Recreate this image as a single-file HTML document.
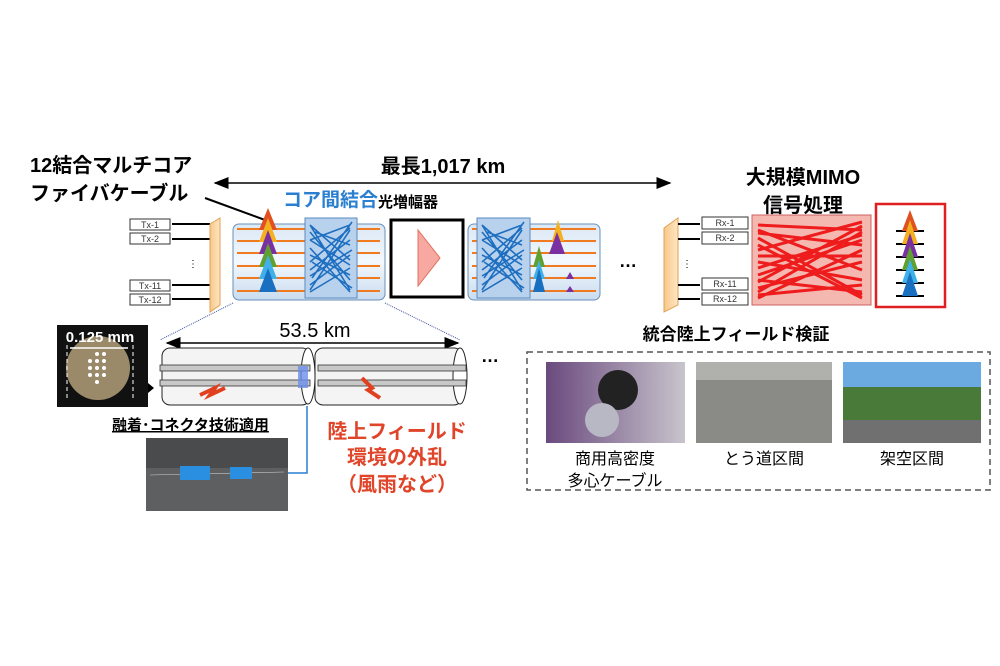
<!DOCTYPE html>
<html><head><meta charset="utf-8"><style>
html,body{margin:0;padding:0;background:#fff;}
svg{display:block;font-family:"Liberation Sans","Noto Sans CJK JP",sans-serif;}
</style></head><body>
<svg width="1000" height="666" viewBox="0 0 1000 666" xmlns="http://www.w3.org/2000/svg">
<defs>
<marker id="ah" markerWidth="10" markerHeight="8" refX="9" refY="4" orient="auto"><path d="M0,0 L10,4 L0,8 Z" fill="#000"/></marker>
<marker id="ahs" markerWidth="10" markerHeight="8" refX="1" refY="4" orient="auto"><path d="M10,0 L0,4 L10,8 Z" fill="#000"/></marker>
<linearGradient id="cyl" x1="0" y1="0" x2="0" y2="1"><stop offset="0" stop-color="#dbe8f6"/><stop offset="0.5" stop-color="#f3f8fd"/><stop offset="1" stop-color="#c9dcf0"/></linearGradient>
<linearGradient id="tr" x1="0" y1="0" x2="1" y2="0"><stop offset="0" stop-color="#f7c98a"/><stop offset="1" stop-color="#fde6c4"/></linearGradient>
<linearGradient id="ph1" x1="0" y1="0" x2="1" y2="0"><stop offset="0" stop-color="#6a4a7e"/><stop offset="1" stop-color="#c8c4cc"/></linearGradient>
</defs>

<text x="30" y="172" font-size="20" font-weight="bold">12結合マルチコア</text>
<text x="30" y="200" font-size="20" font-weight="bold">ファイバケーブル</text>
<line x1="205" y1="198" x2="265" y2="220" stroke="#000" stroke-width="2"/>
<text x="443" y="173" font-size="20" font-weight="bold" text-anchor="middle">最長1,017 km</text>
<line x1="215" y1="183" x2="670" y2="183" stroke="#000" stroke-width="1.5" marker-start="url(#ahs)" marker-end="url(#ah)"/>
<text x="283" y="206" font-size="19" font-weight="bold" fill="#2a7fd0">コア間結合</text>
<text x="378" y="207" font-size="15" font-weight="bold">光増幅器</text>

<g font-size="9" text-anchor="middle" fill="#333">
<rect x="130" y="219" width="40" height="11" fill="#fff" stroke="#333"/><text x="150" y="228">Tx-1</text>
<rect x="130" y="233" width="40" height="11" fill="#fff" stroke="#333"/><text x="150" y="242">Tx-2</text>
<rect x="130" y="280" width="40" height="11" fill="#fff" stroke="#333"/><text x="150" y="289">Tx-11</text>
<rect x="130" y="294" width="40" height="11" fill="#fff" stroke="#333"/><text x="150" y="303">Tx-12</text>
</g>
<g stroke="#000" stroke-width="2"><line x1="172" y1="224" x2="210" y2="224"/><line x1="172" y1="239" x2="210" y2="239"/><line x1="172" y1="285" x2="210" y2="285"/><line x1="172" y1="299" x2="210" y2="299"/></g>
<text x="193" y="267" font-size="10" text-anchor="middle">⋮</text>
<path d="M210,224 L220,218 L220,305 L210,312 Z" fill="url(#tr)" stroke="#e3a050"/>

<rect x="233" y="224" width="152" height="76" rx="6" fill="url(#cyl)" stroke="#6a8fb8"/>
<g stroke="#f07a20" stroke-width="2">
<line x1="237" y1="229" x2="380" y2="229"/><line x1="237" y1="241" x2="380" y2="241"/><line x1="237" y1="253" x2="380" y2="253"/><line x1="237" y1="266" x2="380" y2="266"/><line x1="237" y1="278" x2="380" y2="278"/><line x1="237" y1="291" x2="380" y2="291"/></g>
<path d="M259,230 L268,208 L277,230Z" fill="#e05020"/>
<path d="M259,242 L268,218 L277,242Z" fill="#f5b020"/>
<path d="M259,254 L268,230 L277,254Z" fill="#7a30a0"/>
<path d="M259,267 L268,243 L277,267Z" fill="#60a030"/>
<path d="M259,279 L268,255 L277,279Z" fill="#40b0e8"/>
<path d="M259,292 L268,268 L277,292Z" fill="#1a70c0"/>
<rect x="305" y="218" width="52" height="80" fill="#b8d2ee" stroke="#5a8ac0"/>
<g stroke="#1f6fc0" stroke-width="1.6" fill="none">
<path d="M310,225 L350,290 M310,240 L350,225 M310,255 L350,275 M310,270 L350,240 M310,285 L350,255 M310,225 L350,260 M310,290 L350,230 M315,232 L350,245 M312,262 L352,288 M312,278 L352,222 M310,232 L350,280 M310,248 L350,292 M310,262 L350,228 M310,292 L350,268 M310,276 L352,250 M310,240 L350,265"/></g>

<rect x="391" y="220" width="72" height="77" fill="#fff" stroke="#000" stroke-width="3"/>
<path d="M418,230 L440,258 L418,286 Z" fill="#f7a8a0" stroke="#e07060"/>

<rect x="468" y="224" width="132" height="76" rx="6" fill="url(#cyl)" stroke="#6a8fb8"/>
<g stroke="#f07a20" stroke-width="2">
<line x1="472" y1="229" x2="596" y2="229"/><line x1="472" y1="241" x2="596" y2="241"/><line x1="472" y1="253" x2="596" y2="253"/><line x1="472" y1="266" x2="596" y2="266"/><line x1="472" y1="278" x2="596" y2="278"/><line x1="472" y1="291" x2="596" y2="291"/></g>
<rect x="477" y="218" width="53" height="80" fill="#b8d2ee" stroke="#5a8ac0"/>
<g stroke="#1f6fc0" stroke-width="1.6" fill="none">
<path d="M482,225 L522,290 M482,240 L522,225 M482,255 L522,275 M482,270 L522,240 M482,285 L522,255 M482,225 L522,260 M482,290 L522,230 M487,232 L522,245 M484,262 L524,288 M484,278 L524,222 M482,232 L522,280 M482,248 L522,292 M482,262 L522,228 M482,292 L522,268 M482,276 L524,250 M482,240 L522,265"/></g>
<path d="M552,241 L558,220 L564,241Z" fill="#f5b020"/>
<path d="M549,254 L557,232 L565,254Z" fill="#7a30a0"/>
<path d="M533,267 L539,246 L545,267Z" fill="#60a030"/>
<path d="M533,279 L539,260 L545,279Z" fill="#40b0e8"/>
<path d="M533,292 L539,268 L545,292Z" fill="#1a70c0"/>
<path d="M566,279 L570,272 L574,279Z" fill="#7a30a0"/>
<path d="M566,292 L570,286 L574,292Z" fill="#7a30a0"/>

<text x="628" y="267" font-size="18" text-anchor="middle" font-weight="bold">…</text>

<path d="M664,228 L678,218 L678,305 L664,312 Z" fill="url(#tr)" stroke="#e3a050"/>
<g stroke="#000" stroke-width="2"><line x1="678" y1="224" x2="700" y2="224"/><line x1="678" y1="239" x2="700" y2="239"/><line x1="678" y1="285" x2="700" y2="285"/><line x1="678" y1="299" x2="700" y2="299"/></g>
<text x="687" y="267" font-size="10" text-anchor="middle">⋮</text>
<g font-size="9" text-anchor="middle" fill="#333">
<rect x="702" y="217" width="46" height="12" fill="#fff" stroke="#333"/><text x="725" y="226">Rx-1</text>
<rect x="702" y="232" width="46" height="12" fill="#fff" stroke="#333"/><text x="725" y="241">Rx-2</text>
<rect x="702" y="278" width="46" height="12" fill="#fff" stroke="#333"/><text x="725" y="287">Rx-11</text>
<rect x="702" y="293" width="46" height="12" fill="#fff" stroke="#333"/><text x="725" y="302">Rx-12</text>
</g>
<text x="803" y="184" font-size="20" font-weight="bold" text-anchor="middle">大規模MIMO</text>
<text x="803" y="212" font-size="20" font-weight="bold" text-anchor="middle">信号処理</text>
<rect x="752" y="215" width="119" height="90" fill="#f5b8b0" stroke="#d06060"/>
<g stroke="#ee1c1c" stroke-width="3" fill="none">
<path d="M758,225 L862,230 M758,238 L862,295 M758,250 L862,222 M758,262 L862,280 M758,275 L862,240 M758,288 L862,262 M758,298 L862,250 M758,230 L862,270 M758,282 L862,226 M758,245 L862,298 M758,268 L862,235 M758,295 L862,285 M758,233 L862,245 M758,256 L862,256 M758,280 L862,292 M758,292 L862,232"/></g>
<rect x="876" y="204" width="69" height="103" fill="#fff" stroke="#e02020" stroke-width="2.5"/>
<g stroke="#000" stroke-width="2"><line x1="896" y1="231" x2="924" y2="231"/><line x1="896" y1="244" x2="924" y2="244"/><line x1="896" y1="257" x2="924" y2="257"/><line x1="896" y1="270" x2="924" y2="270"/><line x1="896" y1="283" x2="924" y2="283"/><line x1="896" y1="296" x2="924" y2="296"/></g>
<path d="M902,231 L910,210 L918,231Z" fill="#e05020"/>
<path d="M902,244 L910,220 L918,244Z" fill="#f5b020"/>
<path d="M902,257 L910,233 L918,257Z" fill="#7a30a0"/>
<path d="M902,270 L910,246 L918,270Z" fill="#60a030"/>
<path d="M902,283 L910,259 L918,283Z" fill="#40b0e8"/>
<path d="M902,296 L910,272 L918,296Z" fill="#1a70c0"/>

<line x1="233" y1="303" x2="160" y2="340" stroke="#4050a0" stroke-dasharray="1,1"/>
<line x1="385" y1="303" x2="460" y2="340" stroke="#4050a0" stroke-dasharray="1,1"/>

<rect x="57" y="325" width="91" height="82" fill="#111"/>
<circle cx="98" cy="368" r="32" fill="#9b8a6a"/>
<g fill="#fff"><circle cx="97" cy="354" r="2"/><circle cx="104" cy="354" r="2"/><circle cx="90" cy="361" r="2"/><circle cx="97" cy="361" r="2"/><circle cx="104" cy="361" r="2"/><circle cx="90" cy="368" r="2"/><circle cx="97" cy="368" r="2"/><circle cx="104" cy="368" r="2"/><circle cx="97" cy="375" r="2"/><circle cx="104" cy="375" r="2"/><circle cx="90" cy="375" r="2"/><circle cx="97" cy="382" r="2"/></g>
<text x="100" y="342" font-size="15" font-weight="bold" fill="#fff" text-anchor="middle">0.125 mm</text>
<line x1="70" y1="348" x2="128" y2="348" stroke="#fff" stroke-width="1.5"/>
<line x1="67" y1="345" x2="67" y2="400" stroke="#fff" stroke-dasharray="4,3"/>
<line x1="133" y1="345" x2="133" y2="400" stroke="#fff" stroke-dasharray="4,3"/>
<path d="M148,383 L154,388 L148,393Z" fill="#000"/>

<text x="315" y="337" font-size="20" text-anchor="middle">53.5 km</text>
<line x1="167" y1="343" x2="458" y2="343" stroke="#000" stroke-width="1.5" marker-start="url(#ahs)" marker-end="url(#ah)"/>
<rect x="162" y="348" width="148" height="57" rx="8" fill="#f4f4f4" stroke="#222"/>
<ellipse cx="308" cy="376" rx="7" ry="28" fill="#fff" stroke="#222"/>
<rect x="315" y="348" width="147" height="57" rx="8" fill="#f4f4f4" stroke="#222"/>
<ellipse cx="460" cy="376" rx="7" ry="28" fill="#fff" stroke="#222"/>
<g fill="#c8c8c8" stroke="#333" stroke-width="0.8">
<rect x="160" y="365" width="150" height="6"/><rect x="160" y="380" width="150" height="6"/>
<rect x="318" y="365" width="148" height="6"/><rect x="318" y="380" width="148" height="6"/></g>
<rect x="298" y="366" width="10" height="22" fill="#6a8ee8" opacity="0.8"/>
<path d="M200,395 L215,388 L210,395 L225,388" stroke="#e04020" stroke-width="4" fill="none"/>
<path d="M362,378 L372,388 L368,390 L380,398" stroke="#e04020" stroke-width="4" fill="none"/>
<text x="490" y="362" font-size="18" text-anchor="middle" font-weight="bold">…</text>

<text x="112" y="430" font-size="15" font-weight="bold" text-decoration="underline">融着･コネクタ技術適用</text>
<rect x="146" y="438" width="142" height="73" fill="#5e5f60"/>
<rect x="146" y="438" width="142" height="30" fill="#4a4b4c"/>
<line x1="150" y1="475" x2="284" y2="472" stroke="#ccc" stroke-width="0.6"/>
<rect x="180" y="466" width="30" height="14" fill="#2a8fe0"/>
<rect x="230" y="467" width="22" height="12" fill="#2a8fe0"/>
<polyline points="307,406 307,473 288,473" fill="none" stroke="#2a7fd0" stroke-width="1.5"/>

<g font-size="20" font-weight="bold" fill="#e0452a" text-anchor="middle">
<text x="397" y="438">陸上フィールド</text>
<text x="397" y="464">環境の外乱</text>
<text x="397" y="491">（風雨など）</text></g>

<text x="736" y="340" font-size="17" font-weight="bold" text-anchor="middle">統合陸上フィールド検証</text>
<rect x="527" y="352" width="463" height="138" fill="none" stroke="#555" stroke-width="1.5" stroke-dasharray="6,4"/>
<rect x="546" y="362" width="139" height="81" fill="url(#ph1)"/>
<circle cx="618" cy="390" r="20" fill="#222"/>
<circle cx="602" cy="420" r="17" fill="#b8b8c4"/>
<rect x="696" y="362" width="136" height="81" fill="#8a8a86"/>
<rect x="696" y="362" width="136" height="18" fill="#b0b0ac"/>
<rect x="843" y="362" width="138" height="81" fill="#4a7a3a"/>
<rect x="843" y="362" width="138" height="25" fill="#6aaae0"/>
<rect x="843" y="420" width="138" height="23" fill="#707070"/>
<g font-size="16" text-anchor="middle">
<text x="615" y="464">商用高密度</text><text x="615" y="486">多心ケーブル</text>
<text x="764" y="464">とう道区間</text>
<text x="912" y="464">架空区間</text></g>
</svg>
</body></html>
